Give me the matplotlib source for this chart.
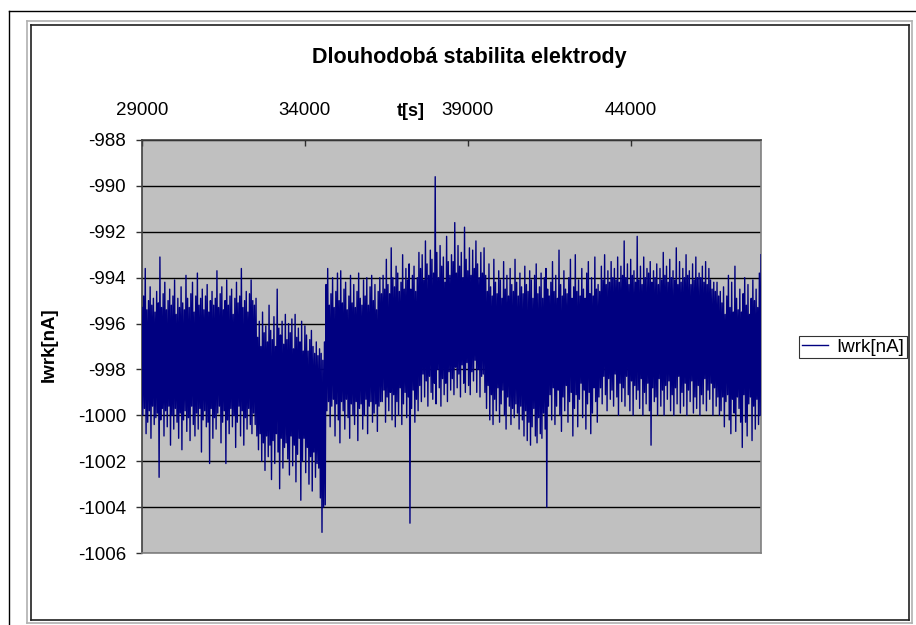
import numpy as np
import matplotlib
matplotlib.use("Agg")
import matplotlib.pyplot as plt
from matplotlib.lines import Line2D

plt.rcParams['font.family'] = ['Liberation Sans', 'DejaVu Sans']

# ---- data (one sample every 25 s) ----
t_start = 29000
t_step = 25
iwrk_a = [-995.3, -1000.0, -994.8, -999.7, -993.6, -1000.8, -995.4, -1000.3, -995.0, -999.8,
          -994.4, -1001.0, -995.2, -999.6, -994.9, -1000.4, -995.5, -1000.1, -994.6, -999.9,
          -995.1, -1002.7, -993.1, -1000.2, -995.3, -999.7, -994.7, -1000.9, -994.2, -999.8,
          -995.4, -1000.5, -995.0, -999.6, -994.5, -1001.3, -995.2, -1000.0, -994.8, -1000.6,
          -994.1, -999.7, -995.6, -1000.3, -994.9, -1001.0, -995.3, -999.9, -994.4, -1001.5,
          -995.1, -1000.2, -995.4, -999.8, -993.9, -1000.7, -994.9, -1000.1, -995.3, -1001.1,
          -994.7, -999.6, -994.2, -1000.4, -995.5, -1000.9, -994.8, -999.9, -993.8, -1000.6,
          -995.2, -999.7, -994.9, -1001.6, -994.5, -1000.2, -995.4, -999.8, -994.8, -1000.5,
          -994.3, -1000.3, -995.5, -1002.1, -995.0, -999.7, -994.6, -1001.0, -995.2, -1000.1,
          -994.9, -1000.6, -993.7, -999.9, -995.3, -999.6, -994.7, -1001.2, -994.4, -1000.3,
          -995.4, -999.8, -995.0, -1002.1, -994.1, -1000.2, -995.2, -1000.8, -994.8, -999.7,
          -994.5, -1000.5, -995.6, -1000.0, -994.9, -1001.4, -994.2, -1000.3, -995.1, -999.6,
          -994.8, -1000.9, -993.6, -999.8, -995.3, -1001.3, -995.0, -1000.1, -994.6, -1000.6,
          -995.5, -999.7, -994.7, -1000.4, -994.1, -1000.8, -995.0, -999.9, -995.2, -1000.4,
          -994.9]
iwrk_b = [-1000.9, -996.6, -1001.5, -995.9, -1000.8, -997.0, -1002.0, -995.5, -1001.2, -996.4,
          -1002.4, -996.1, -1000.9, -996.8, -1001.8, -995.2, -1001.3, -996.3, -1002.8, -996.7,
          -1001.1, -995.7, -1002.1, -997.0, -1000.8, -994.5, -1001.6, -996.2, -1003.2, -996.5,
          -1001.0, -995.9, -1002.3, -996.9, -1001.4, -995.6, -1001.2, -996.7, -1001.9, -996.0,
          -1002.6, -996.4, -1000.9, -995.8, -1002.2, -997.1, -1001.3, -995.6, -1002.9, -996.6,
          -1001.7, -996.2, -1001.0, -996.8, -1003.7, -995.9, -1002.0, -997.2, -1001.0, -996.1,
          -1002.5, -996.5, -1001.4, -997.2, -1003.0, -996.7, -1001.8, -996.3, -1003.3, -997.0,
          -1001.6, -997.3, -1002.7, -996.8, -1002.1, -997.4, -1002.3, -997.1, -1003.6, -997.3]
iwrk_c = [-1005.1, -997.6, -1004.0, -996.8, -1003.9]
iwrk_d = [-994.3, -999.8, -993.6, -999.4, -995.2, -1000.5, -994.7, -999.6, -994.0, -999.3,
          -995.3, -1000.9, -994.6, -999.5, -993.8, -1000.2, -995.0, -1001.2, -993.7, -999.4,
          -995.1, -999.8, -994.5, -1000.6, -994.2, -999.3, -995.4, -1000.1, -994.8, -1001.0,
          -993.9, -999.5, -995.1, -1000.0, -994.3, -1000.4, -995.3, -999.4, -994.6, -1001.1,
          -993.8, -999.7, -994.9, -999.5, -995.2, -1000.6, -994.1, -1000.0, -994.8, -999.3,
          -994.0, -1000.8, -995.2, -999.6, -994.4, -999.4, -993.9, -1000.3, -995.0, -999.9,
          -994.3, -999.5, -995.4, -1000.7, -994.6, -999.6, -994.0, -999.4, -994.7]
iwrk_e = [-999.4, -993.9, -998.9, -994.5, -1000.3, -993.2, -999.2, -994.3, -999.8, -994.7,
          -999.0, -992.7, -1000.2, -994.0, -999.1, -994.4, -1000.5, -993.5, -999.4, -993.8,
          -1000.0, -994.6, -998.8, -994.2, -1000.4, -993.0, -999.5, -994.5, -999.0, -993.6,
          -1000.1, -994.1, -999.2, -993.4, -1004.7, -994.5, -999.7, -993.9, -998.9, -993.5,
          -1000.3, -994.6, -999.3, -994.0, -999.8, -992.9]
iwrk_f = [-998.7, -993.6, -999.4, -993.0, -998.2, -994.1, -999.2, -992.4, -998.5, -993.4,
          -999.6, -993.9, -998.3, -992.8, -999.0, -993.2, -999.3, -993.8, -998.6, -989.6,
          -999.5, -992.9, -998.0, -994.0, -998.8, -992.6, -999.6, -993.5, -998.4, -993.1,
          -999.1, -994.2, -998.6, -992.2, -999.4, -993.3, -998.1, -993.9, -998.9, -993.0]
iwrk_g = [-998.4, -993.3, -999.1, -991.6, -997.9, -993.8, -998.8, -992.6, -998.2, -993.5,
          -999.2, -992.9, -997.8, -994.0, -998.6, -991.8, -999.0, -993.2, -997.7, -993.7,
          -998.7, -992.7, -999.1, -993.9, -998.1, -992.8, -998.5, -993.6, -997.6, -992.4,
          -999.0, -993.4, -998.0, -994.0, -999.2, -992.9, -998.3, -993.8, -998.2, -992.7]
iwrk_h = [-999.0, -993.9, -999.7, -994.6, -998.7, -993.4, -1000.2, -994.4, -999.1, -994.8,
          -1000.4, -993.2, -999.3, -994.2, -999.8, -994.7, -998.8, -993.7, -1000.3, -994.1,
          -999.5, -994.9, -998.9, -993.3, -1000.0, -994.5, -1000.6, -993.9, -999.2, -994.8,
          -999.6, -993.6, -1000.4, -994.3, -999.7, -994.6, -1000.1, -993.2, -999.5, -994.2,
          -999.9, -994.8, -1000.6, -993.8, -999.6, -994.4, -1000.2, -994.7, -1000.9, -993.5,
          -999.8, -994.3, -1001.1, -994.6, -1000.3, -993.7, -1001.3, -994.1, -1000.5, -994.9,
          -999.7, -993.9, -1000.9, -993.4, -1001.2, -994.7, -1000.1, -994.4, -1000.8, -993.8,
          -1001.0, -994.9, -999.9, -994.0, -1000.6, -993.6, -1004.0, -994.5, -999.6, -994.8,
          -999.1, -994.2, -1000.2, -993.3, -998.8, -994.6, -1000.4, -993.9, -999.6, -994.9,
          -998.9, -992.8, -1000.0, -994.3, -1000.7, -994.8, -999.2, -993.7, -999.8, -994.5,
          -998.7, -994.7, -1000.3, -994.0, -999.4, -993.2, -999.0, -994.9, -1000.9, -994.4,
          -999.7, -993.0, -999.1, -994.6, -1000.5, -994.1, -999.3, -994.8, -998.6, -993.6,
          -1000.1, -994.5, -998.9, -994.9, -1000.6, -993.8, -999.5, -993.3, -999.0, -994.7,
          -1000.8, -994.0, -999.9, -994.8, -998.8, -993.1, -999.4, -994.5, -1000.3, -994.3,
          -999.2, -994.6]
iwrk_i = [-998.8, -993.5, -999.5, -994.1, -998.3, -993.0, -999.1, -994.3, -999.8, -993.7,
          -998.4, -994.2, -999.3, -993.3, -998.9, -994.0, -999.6, -993.6, -998.2, -994.1,
          -999.2, -993.1, -1000.0, -994.2, -998.6, -993.5, -999.4, -993.9, -998.8, -992.4,
          -999.6, -994.0, -998.3, -993.4, -999.1, -994.3, -999.8, -993.2, -998.5, -993.9,
          -1000.0, -993.7, -998.7, -994.2, -999.3, -992.2, -998.9, -994.1, -999.7, -993.5,
          -998.4, -994.3, -1000.0, -993.1, -999.0, -994.0, -999.5, -993.6, -998.6, -993.8,
          -999.8, -993.3, -1001.3, -994.2, -998.8, -993.7, -999.4, -994.0, -999.2, -993.4,
          -1000.0, -994.3, -998.4, -993.6, -999.6, -994.1, -998.9, -992.9, -1000.0, -993.9,
          -998.7, -993.5, -999.3, -994.2, -998.5, -993.2, -999.8, -994.0, -999.1, -993.7,
          -1000.0, -994.1, -998.8, -992.7, -999.5, -994.3, -998.3, -993.3, -999.9, -994.2,
          -999.0, -993.6, -999.6, -994.0, -998.6, -993.0, -1000.0, -993.9, -998.9, -993.7,
          -999.4, -994.3, -998.5, -993.4, -999.9, -994.1, -999.2, -993.1, -999.7, -994.0,
          -998.7, -993.8, -1000.0, -994.0, -999.1, -993.5, -999.5, -994.2, -998.4, -993.3,
          -999.8, -994.3, -998.9, -993.6, -999.3, -994.1, -998.6, -994.5, -1000.0, -994.2,
          -998.8, -994.6, -999.6, -994.2, -999.2, -994.8, -1000.0, -994.6]
iwrk_j = [-999.8, -995.1, -999.2, -994.4, -1000.5, -995.6, -999.4, -994.8, -999.1, -993.9,
          -1000.2, -995.3, -1000.8, -994.2, -999.3, -995.5, -999.9, -993.5, -1000.7, -994.9,
          -999.2, -995.4, -999.7, -994.5, -1000.3, -995.5, -1001.4, -994.7, -999.1, -994.0,
          -1000.3, -995.2, -1000.9, -994.3, -999.5, -995.6, -999.2, -994.9, -1001.1, -994.1,
          -999.6, -995.0, -1000.6, -994.5, -999.3, -995.3, -1000.4, -993.8, -1000.0, -993.0]

iwrk = (iwrk_a + iwrk_b + iwrk_c + iwrk_d + iwrk_e + iwrk_f + iwrk_g
        + iwrk_h + iwrk_i + iwrk_j)
t = t_start + t_step * np.arange(len(iwrk))

x_ticks = [29000, 34000, 39000, 44000]
y_ticks = [-988, -990, -992, -994, -996, -998, -1000, -1002, -1004, -1006]

title = "Dlouhodobá stabilita elektrody"
series_name = "Iwrk[nA]"
x_label = "t[s]"

# ---- figure ----
W, H = 916, 625
fig = plt.figure(figsize=(W / 100, H / 100), dpi=100)
fig.patch.set_facecolor('white')

def fx(px):
    return px / W

def fy(py):
    return 1 - py / H

def hline(y, x0, x1, color, lw=1.0):
    fig.add_artist(Line2D([fx(x0), fx(x1)], [fy(y), fy(y)], transform=fig.transFigure,
                          color=color, lw=lw))

def vline(x, y0, y1, color, lw=1.0):
    fig.add_artist(Line2D([fx(x), fx(x)], [fy(y0), fy(y1)], transform=fig.transFigure,
                          color=color, lw=lw))

# outer black border (top / left)
hline(10.5, 8.5, 916, 'black')
vline(8.5, 10.5, 625, 'black')
# light gray highlight
hline(20.5, 26.5, 911.5, '#b0b0b0', 1.2)
vline(26.5, 20.5, 622.5, '#b0b0b0', 1.2)
vline(911.5, 20.5, 622.5, '#b0b0b0', 1.2)
hline(622.5, 26.5, 911.5, '#b0b0b0', 1.2)
# dark chart border
hline(24.5, 30.5, 908.5, '#202020', 1.2)
vline(30.5, 24.5, 619.5, '#202020', 1.2)
vline(908.5, 24.5, 619.5, '#202020', 1.2)
hline(619.5, 30.5, 908.5, '#202020', 1.2)

# plot area
L, R, T, B = 142, 761, 140, 553
ax = fig.add_axes([fx(L), fy(B), fx(R) - fx(L), fy(T) - fy(B)])
ax.set_facecolor('#c0c0c0')
ax.plot(t, iwrk, color='#000080', lw=1.0, label=series_name, zorder=3)

ax.set_xlim(29000, 48000)
ax.set_ylim(-1006, -988)
ax.set_yticks(y_ticks)
ax.set_yticklabels([str(v) for v in y_ticks])
ax.set_xticks(x_ticks)
ax.set_xticklabels([str(v) for v in x_ticks])
ax.xaxis.tick_top()
ax.tick_params(axis='x', direction='in', length=4.5, width=1, color='#303030',
               labelsize=13.5, pad=15)
ax.tick_params(axis='y', direction='out', length=4.5, width=1, color='#303030',
               labelsize=13.5, pad=7)
ax.yaxis.grid(True, color='black', lw=1.0, zorder=1)
ax.set_axisbelow(True)
for s in ['left', 'top']:
    ax.spines[s].set_color('#404040')
    ax.spines[s].set_linewidth(1.2)
for s in ['right', 'bottom']:
    ax.spines[s].set_color('#808080')
    ax.spines[s].set_linewidth(1.2)

fig.text(fx(469), fy(57), title, ha='center', va='center', fontsize=15.5, fontweight='bold')
fig.text(fx(411), fy(111), x_label, ha='center', va='center', fontsize=13, fontweight='bold')
fig.text(fx(49), fy(345), series_name, ha='center', va='center', fontsize=13.5,
         fontweight='bold', rotation=90)

# legend
leg = fig.legend(handles=[Line2D([], [], color='#000080', lw=1.0)], labels=[series_name],
                 loc='center', bbox_to_anchor=(fx(853), fy(347)), frameon=True, fancybox=False,
                 fontsize=13.5, handlelength=1.4, handletextpad=0.4, borderpad=0.15,
                 borderaxespad=0)
leg.get_frame().set_edgecolor('black')
leg.get_frame().set_linewidth(0.8)

fig.savefig('out.png', dpi=100, facecolor='white')
